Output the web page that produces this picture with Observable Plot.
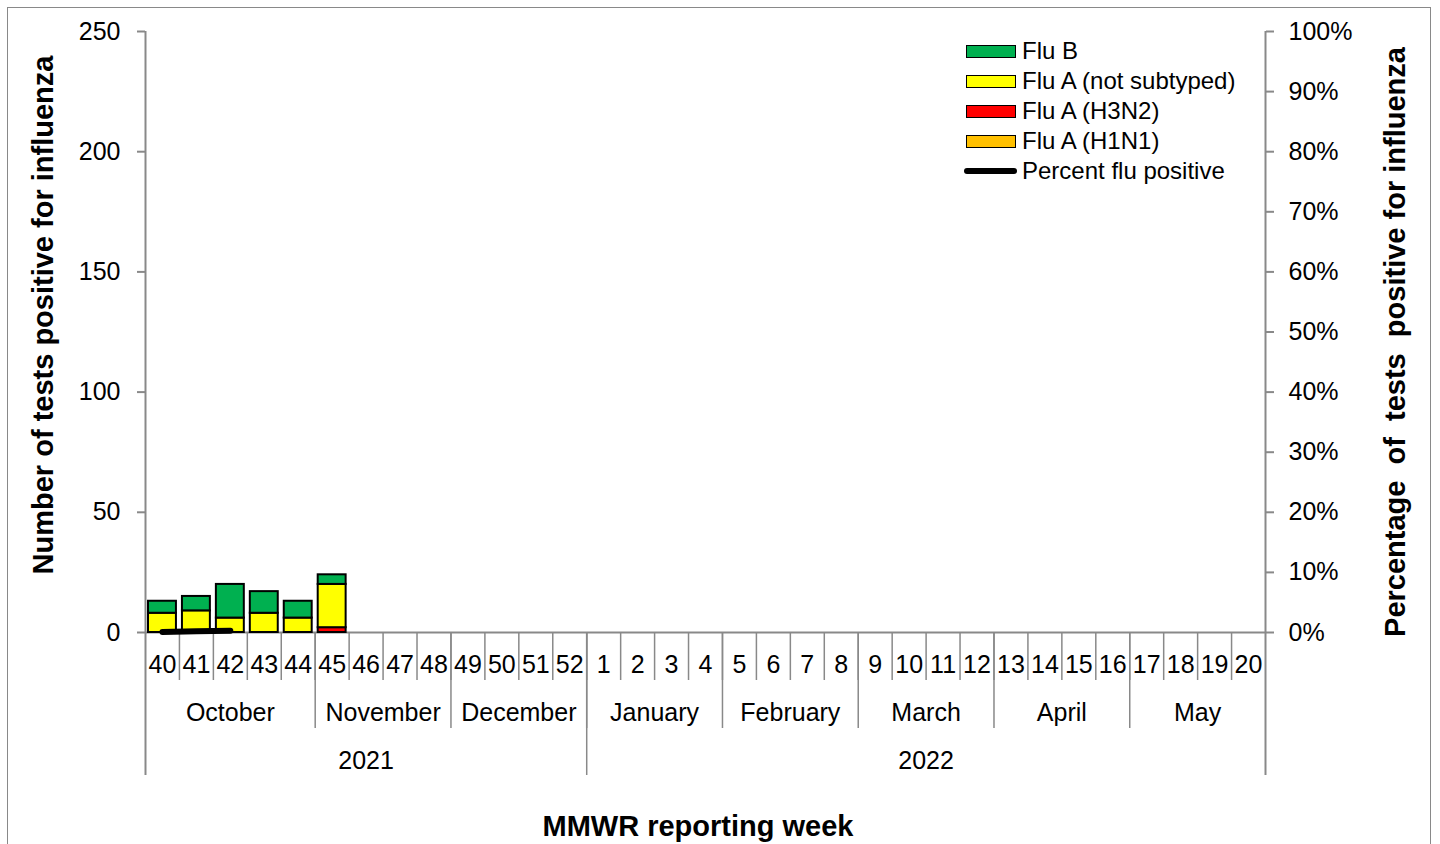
<!DOCTYPE html>
<html><head><meta charset="utf-8">
<script src="https://cdn.jsdelivr.net/npm/d3@7"></script>
<script src="https://cdn.jsdelivr.net/npm/@observablehq/plot@0.6"></script>
<style>
html,body{margin:0;padding:0;background:#fff;overflow:hidden;width:1440px;height:844px}
#wrap{position:relative;width:1440px;height:844px;font-family:"Liberation Sans",Arial,sans-serif;color:#000}
#frame{position:absolute;left:7px;top:7px;width:1424px;height:900px;border:1.5px solid #898989;box-sizing:border-box}
#chart{position:absolute;left:0;top:0}
.title{position:absolute;font-weight:bold;font-size:29px;white-space:pre;line-height:1}
.rot{transform:translate(-50%,-50%) rotate(-90deg)}
#legend{position:absolute;left:966px;top:36px;font-size:24px;line-height:30px}
.row{display:flex;align-items:center;height:30px}
.sw{width:48px;height:11px;border:1.5px solid #000;margin-right:6px}
.ln{width:53px;height:6px;background:#000;border-radius:3px;margin-right:5px;margin-left:-2px}
</style></head>
<body><div id="wrap"><div id="frame"></div><div id="chart"></div>
<div class="title rot" style="left:43px;top:315px">Number of tests positive for influenza</div>
<div class="title rot" style="left:1395px;top:342px">Percentage  of  tests  positive for influenza</div>
<div class="title" style="left:698px;top:826px;transform:translate(-50%,-50%)">MMWR reporting week</div>
<div id="legend"></div>
</div>
<script>
const weeks = ["40","41","42","43","44","45","46","47","48","49","50","51","52","1","2","3","4","5","6","7","8","9","10","11","12","13","14","15","16","17","18","19","20"];
const fluB            = [5,6,14,9,7,4,0,0,0,0,0,0,0,0,0,0,0,0,0,0,0,0,0,0,0,0,0,0,0,0,0,0,0];
const fluANotSubtyped = [8,9,6,8,6,18,0,0,0,0,0,0,0,0,0,0,0,0,0,0,0,0,0,0,0,0,0,0,0,0,0,0,0];
const fluAH3N2        = [0,0,0,0,0,2,0,0,0,0,0,0,0,0,0,0,0,0,0,0,0,0,0,0,0,0,0,0,0,0,0,0,0];
const fluAH1N1        = [0,0,0,0,0,0,0,0,0,0,0,0,0,0,0,0,0,0,0,0,0,0,0,0,0,0,0,0,0,0,0,0,0];
const pctPositive     = [0.1,0.2,0.3,null,null,null,null,null,null,null,null,null,null,null,null,null,null,null,null,null,null,null,null,null,null,null,null,null,null,null,null,null,null];
const months = ["October","November","December","January","February","March","April","May"];
const monthWeeks = [5,4,4,4,4,4,4,4];
const years = ["2021","2022"];
const yearWeeks = [13,20];
const leftTicks = [0,50,100,150,200,250];
const rightTicks = [0,10,20,30,40,50,60,70,80,90,100];

const seriesNames = ["Flu A (H1N1)","Flu A (H3N2)","Flu A (not subtyped)","Flu B"];
const seriesVals = [fluAH1N1, fluAH3N2, fluANotSubtyped, fluB];
const seriesColors = ["#ffc000","#ff0000","#ffff00","#00b050"];

const W = 1440, H = 844, mT = 31, mB = 212, mL = 145, mR = 175;
const yMax = 250;
const gray = "#898989";
const unitsPerPx = yMax / (H - mT - mB);
const below = px => -px * unitsPerPx;

const segs = [];
weeks.forEach((w, i) => {
  let cum = 0;
  seriesVals.forEach((arr, s) => {
    const v = arr[i];
    if (v > 0) { segs.push({x1: i, x2: i + 1, y1: cum, y2: cum + v, fill: seriesColors[s]}); cum += v; }
  });
});
const pct = pctPositive.map((p, i) => ({i, p})).filter(d => d.p != null);

function groups(names, counts) {
  let c = 0; const out = [];
  names.forEach((n, k) => { out.push({name: n, start: c, end: c + counts[k]}); c += counts[k]; });
  return out;
}
const monthG = groups(months, monthWeeks);
const yearG = groups(years, yearWeeks);
const n = weeks.length;

const plot = Plot.plot({
  width: W, height: H, marginTop: mT, marginBottom: mB, marginLeft: mL, marginRight: mR,
  x: {domain: [0, n], axis: null},
  y: {domain: [0, yMax], axis: null},
  style: {fontFamily: '"Liberation Sans", Arial, sans-serif', fontSize: "25px", color: "#000", background: "transparent", overflow: "visible"},
  marks: [
    Plot.ruleY([0], {stroke: gray, strokeWidth: 2}),
    Plot.ruleX(d3.range(1, n), {y1: 0, y2: below(48), stroke: gray, strokeWidth: 1.5}),
    Plot.ruleX(monthG.slice(1).map(d => d.start), {y1: 0, y2: below(96), stroke: gray, strokeWidth: 1.5}),
    Plot.ruleX(yearG.slice(1).map(d => d.start), {y1: 0, y2: below(143), stroke: gray, strokeWidth: 1.5}),
    Plot.ruleX([0, n], {y1: yMax, y2: below(143), stroke: gray, strokeWidth: 2}),
    Plot.axisY({anchor: "left", ticks: leftTicks, tickSize: 8, tickPadding: 17, stroke: gray, strokeWidth: 2, fill: "#000", fontSize: 25, label: null}),
    Plot.axisY({anchor: "right", ticks: rightTicks.map(t => t * yMax / 100), tickFormat: d => `${Math.round(d * 100 / yMax)}%`, tickSize: 8, tickPadding: 15, stroke: gray, strokeWidth: 2, fill: "#000", fontSize: 25, label: null}),
    Plot.rect(segs, {x1: "x1", x2: "x2", y1: "y1", y2: "y2", fill: "fill", stroke: "#000", strokeWidth: 2, insetLeft: 3, insetRight: 3}),
    Plot.line(pct, {x: d => d.i + 0.5, y: d => d.p * yMax / 100, stroke: "#000", strokeWidth: 6, strokeLinecap: "round"}),
    Plot.text(weeks, {x: (d, i) => i + 0.5, y: 0, dy: 32, text: d => d, fontSize: 25, fill: "#000"}),
    Plot.text(monthG, {x: d => (d.start + d.end) / 2, y: 0, dy: 80, text: "name", fontSize: 25, fill: "#000"}),
    Plot.text(yearG, {x: d => (d.start + d.end) / 2, y: 0, dy: 128, text: "name", fontSize: 25, fill: "#000"})
  ]
});
document.getElementById("chart").appendChild(plot);

const legend = document.getElementById("legend");
const legendItems = [3, 2, 1, 0].map(s => ({label: seriesNames[s], color: seriesColors[s]}));
legendItems.forEach(it => {
  const r = document.createElement("div"); r.className = "row";
  r.innerHTML = `<div class="sw" style="background:${it.color}"></div><span>${it.label}</span>`;
  legend.appendChild(r);
});
const r = document.createElement("div"); r.className = "row";
r.innerHTML = `<div class="ln"></div><span>Percent flu positive</span>`;
legend.appendChild(r);
</script>
</body></html>
